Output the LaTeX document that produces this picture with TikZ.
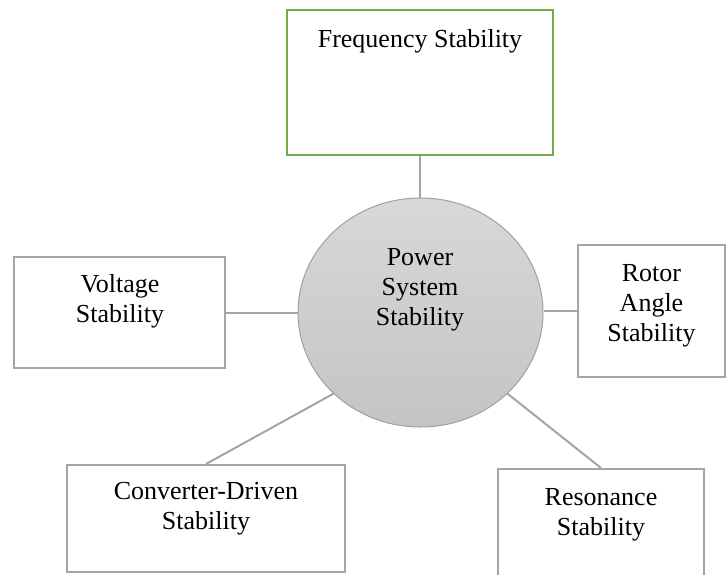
\documentclass[tikz,border=0pt]{standalone}
\usepackage{fontspec}
\setmainfont{Liberation Serif}
\usetikzlibrary{shapes.geometric}
\definecolor{boxgray}{RGB}{165,165,165}
\definecolor{freqgreen}{RGB}{112,173,71}
\definecolor{circtop}{RGB}{216,216,216}
\definecolor{circbot}{RGB}{196,196,196}
\definecolor{circline}{RGB}{160,160,160}
\tikzset{
  boxnode/.style={draw=boxgray, line width=2pt, rectangle, inner sep=0pt},
  lbl/.style={align=center, inner sep=0pt, font=\fontsize{26}{30}\selectfont},
  conn/.style={draw=boxgray, line width=2pt}
}
\begin{document}
\begin{tikzpicture}[x=1pt,y=-1pt]
\useasboundingbox (0,0) rectangle (728,574);
\clip (0,0) rectangle (728,574);
\fill[white] (0,0) rectangle (728,574);
% boxes
\node[boxnode, draw=freqgreen, minimum width=266pt, minimum height=145pt] (freq) at (420,82.5) {};
\node[boxnode, minimum width=211pt, minimum height=111pt] (volt) at (119.5,312.5) {};
\node[boxnode, minimum width=147pt, minimum height=132pt] (rotor) at (651.5,311) {};
\node[boxnode, minimum width=278pt, minimum height=107pt] (conv) at (206,518.5) {};
\node[boxnode, minimum width=206pt, minimum height=130pt] (reso) at (601,534) {};
% circle
\node[ellipse, draw=circline, line width=1pt, top color=circtop, bottom color=circbot,
      minimum width=245pt, minimum height=229pt, inner sep=0pt] (circ) at (420.5,312.5) {};
% labels
\node[lbl, anchor=base] (tfreq) at (420,47) {Frequency Stability};
\node[lbl] (tvolt) at (120,301.5) {Voltage\\Stability};
\node[lbl] (trotor) at (651.5,306) {Rotor\\Angle\\Stability};
\node[lbl] (tcirc) at (420,289.5) {Power\\System\\Stability};
\node[lbl] (tconv) at (206,509) {Converter-Driven\\Stability};
\node[lbl] (treso) at (601,514.5) {Resonance\\Stability};
% connectors
\draw[conn] (freq.south) -- (freq.south |- circ.north);
\draw[conn] (volt.east) -- (volt.east -| circ.west);
\draw[conn] (rotor.west -| circ.east) -- (rotor.west);
\draw[conn] (conv.north) -- (circ.223);
\draw[conn] (reso.north) -- (circ.-43);
\end{tikzpicture}
\end{document}
